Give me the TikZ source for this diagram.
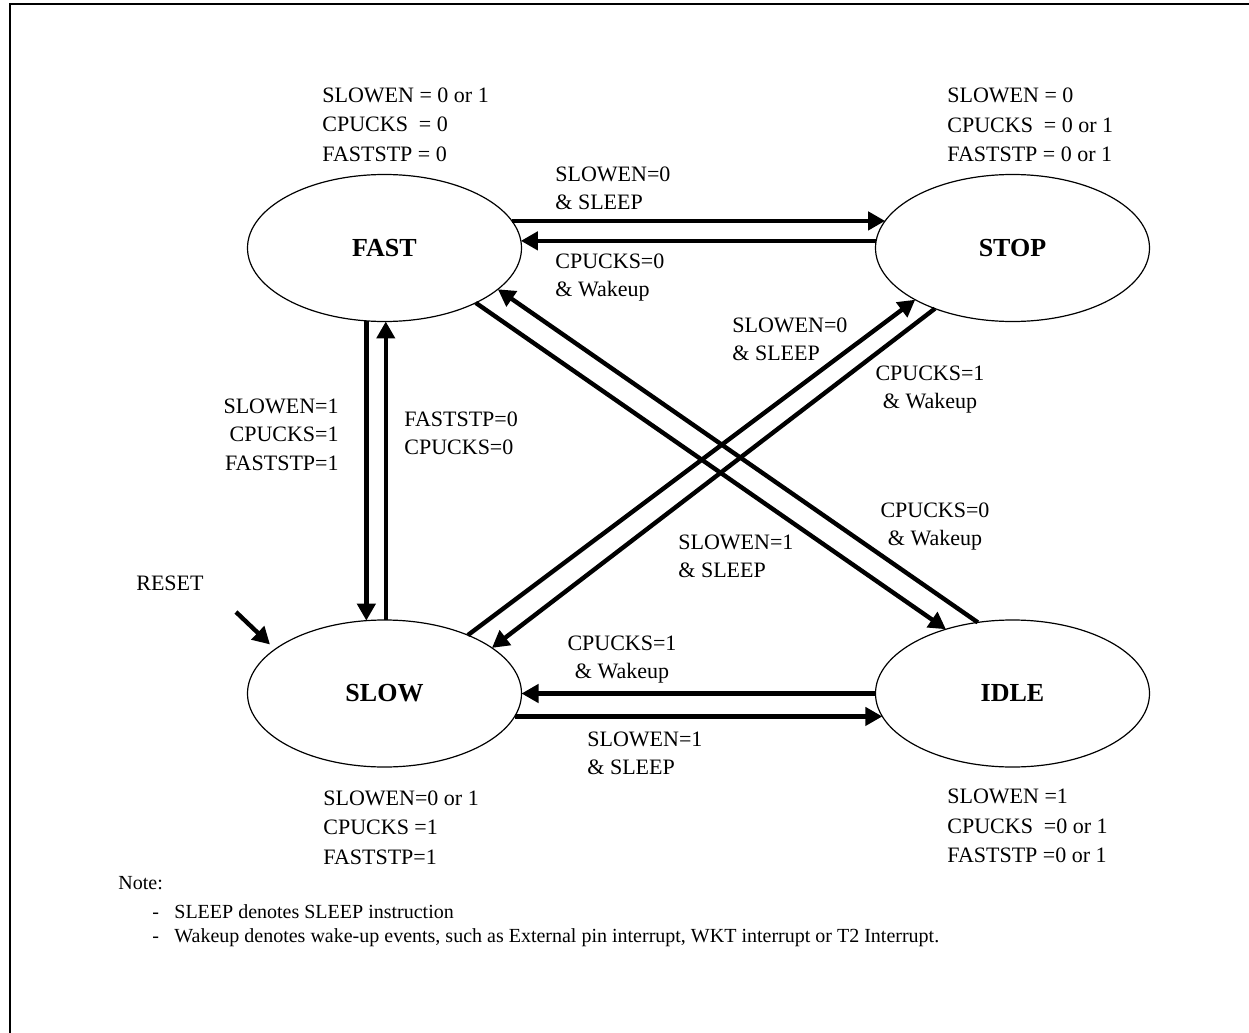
\documentclass[tikz,border=0pt]{standalone}
\usepackage{fontspec}
\setmainfont{Liberation Serif}
\usetikzlibrary{arrows.meta,shapes.geometric}
\begin{document}
\begin{tikzpicture}[x=0.5pt,y=-0.5pt,
  state/.style={ellipse,draw,line width=0.6pt,minimum width=137pt,minimum height=73.5pt,
    inner sep=0pt,outer sep=0pt,font=\fontsize{13}{15}\selectfont\bfseries},
  trans/.style={line width=2.2pt,-{Triangle[length=8.5pt,width=9pt]}},
  lbl/.style={font=\fontsize{11}{14}\selectfont,inner sep=0pt,align=left,anchor=west},
  lblc/.style={font=\fontsize{11}{14}\selectfont,inner sep=0pt,align=center},
  lblr/.style={font=\fontsize{11}{14.3}\selectfont,inner sep=0pt,align=right,anchor=east},
  tbl/.style={font=\fontsize{11}{14.75}\selectfont,inner sep=0pt,align=left,anchor=west},
  note/.style={font=\fontsize{10}{12}\selectfont,inner sep=0pt,anchor=west},
  frame/.style={line width=1pt}
]
\useasboundingbox (0,0) rectangle (1249,1033);
\coordinate (fbl) at (10,1033);
\coordinate (ftl) at (10,4);
\coordinate (ftr) at (1249,4);
\draw[frame] (fbl) -- (ftl) -- (ftr);

% states
\node[state] (fast) at (384.5,248) {FAST};
\node[state] (stop) at (1012.5,248) {STOP};
\node[state] (slow) at (384.5,693.5) {SLOW};
\node[state] (idle) at (1012.5,693.5) {IDLE};

% state tables
\node[tbl] (tfast) at (322,124.5) {SLOWEN = 0 or 1\\CPUCKS\ \ = 0\\FASTSTP = 0};
\node[tbl] (tstop) at (947,125) {SLOWEN = 0\\CPUCKS\ \ = 0 or 1\\FASTSTP = 0 or 1};
\node[tbl] (tslow) at (323,827.5) {SLOWEN=0 or 1\\CPUCKS =1\\FASTSTP=1};
\node[tbl] (tidle) at (947,826) {SLOWEN =1\\CPUCKS\ \ =0 or 1\\FASTSTP =0 or 1};

% transitions
\draw[trans] (fast.12) -- (stop.168);
\draw[trans] (stop.177) -- (fast.3);
\draw[trans] (idle.180) -- (slow.0);
\draw[trans] (slow.350) -- (idle.190);
\draw[trans] (fast.256) -- (slow.104);
\draw[trans] (slow.89) -- (fast.271);
\draw[trans] (fast.329) -- (idle.136);
\draw[trans] (idle.116) -- (fast.340);
\draw[trans] (slow.35) -- (stop.208);
\draw[trans] (stop.218) -- (slow.23);

% reset
\coordinate (rs) at (236,612);
\draw[trans,shorten >=3.5pt] (rs) -- (slow.158);
\node[lbl,anchor=east] (reset) at (204,583) {RESET};

% transition labels
\node[lbl] (l1) at (555,188) {SLOWEN=0\\\& SLEEP};
\node[lbl] (l2) at (555,278) {CPUCKS=0\\\& Wakeup};
\node[lbl] (l3) at (732,339) {SLOWEN=0\\\& SLEEP};
\node[lblc] (l4) at (930,390) {CPUCKS=1\\\& Wakeup};
\node[lblc] (l5) at (935,527) {CPUCKS=0\\\& Wakeup};
\node[lbl] (l6) at (678,556) {SLOWEN=1\\\& SLEEP};
\node[lblc] (l7) at (622,660) {CPUCKS=1\\\& Wakeup};
\node[lbl] (l8) at (587,753) {SLOWEN=1\\\& SLEEP};
\node[lblr] (l9) at (339,434.5) {SLOWEN=1\\CPUCKS=1\\FASTSTP=1};
\node[lbl] (l10) at (404,433.5) {FASTSTP=0\\CPUCKS=0};

% note
\node[note] (n0) at (118,883) {Note:};
\node[note] (n1) at (152,912) {\makebox[11pt][l]{-}SLEEP denotes SLEEP instruction};
\node[note] (n2) at (152,938) {\makebox[11pt][l]{-}Wakeup denotes wake-up events, such as External pin interrupt, WKT interrupt or T2 Interrupt.};
\end{tikzpicture}
\end{document}
